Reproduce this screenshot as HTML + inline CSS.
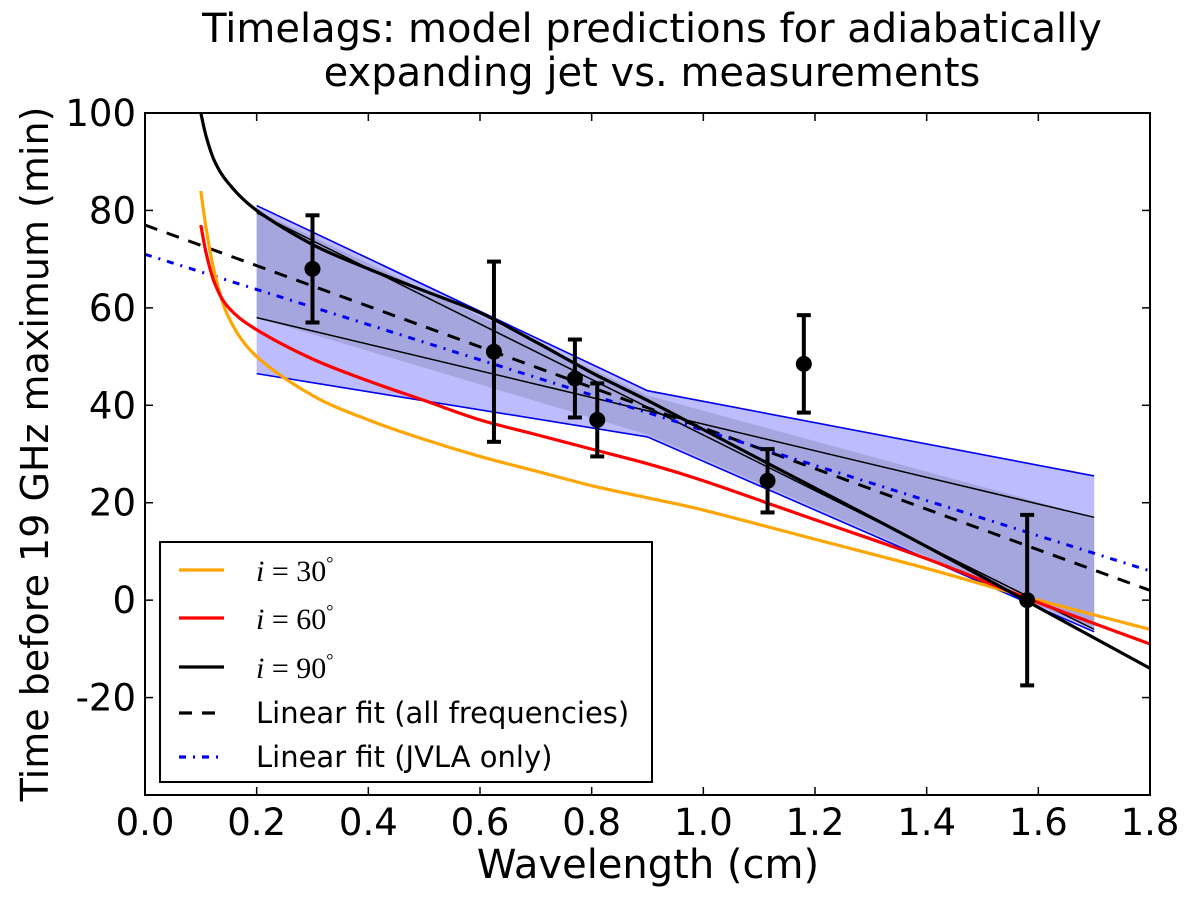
<!DOCTYPE html>
<html><head><meta charset="utf-8"><style>
body{margin:0;background:#fff;}
svg text{font-family:"DejaVu Sans","Liberation Sans",sans-serif;fill:#000;}
</style></head><body>
<svg id="chart" width="1200" height="904" viewBox="0 0 1200 904" xmlns="http://www.w3.org/2000/svg">
<text x="652" y="42" font-size="40" text-anchor="middle">Timelags: model predictions for adiabatically</text>
<text x="652" y="86" font-size="40" text-anchor="middle">expanding jet vs. measurements</text>
<text transform="translate(48,454) rotate(-90)" font-size="38" text-anchor="middle">Time before 19 GHz maximum (min)</text>
<text x="648" y="878" font-size="40" text-anchor="middle">Wavelength (cm)</text>
<g id="plot"></g>
</svg>
<script>
const xTicks=[0.0,0.2,0.4,0.6,0.8,1.0,1.2,1.4,1.6,1.8];
const xTickLabels=["0.0","0.2","0.4","0.6","0.8","1.0","1.2","1.4","1.6","1.8"];
const yTicks=[100,80,60,40,20,0,-20];
const yTickLabels=["100","80","60","40","20","0","-20"];
const curveX=[0.1,0.11,0.125,0.15,0.2,0.3,0.4,0.5,0.6,0.7,0.8,0.9,1.0,1.2,1.4,1.6,1.8];
const i30Y=[84,76,67,58,50,42,37,33,29.5,26.5,23.5,21,18.5,12.5,6.5,0,-6];
const i60Y=[77,71,65,60,55.5,49.5,45,41,37,34,31,28,24.5,16.5,8.5,-0.5,-9];
const i90Y=[100,95,90,85.5,80,73,68,63.5,59,53,46.7,41,35,23,11,-1.5,-14];
const fitAll=[77,2];
const fitJVLA=[71,6];
const bandX=[0.2,0.9,1.7];
const bandTop=[81,43,25.5];
const bandBottom=[46.5,33.5,-6.5];
const darkTop=[80,42,17];
const darkBottom=[58,34,-6];
const thinA=[[0.2,79.5],[1.7,-6]];
const thinB=[[0.2,58],[1.7,17]];
const ptX=[0.30,0.625,0.77,0.81,1.115,1.18,1.58];
const ptY=[68,51,45.5,37,24.5,48.5,0];
const ptErr=[11,18.5,8,7.5,6.5,10,17.5];

const L=145,R=1150,T=113,B=795,xmin=0,xmax=1.8,ymin=-40,ymax=100;
const sx=v=>L+(v-xmin)/(xmax-xmin)*(R-L);
const sy=v=>B-(v-ymin)/(ymax-ymin)*(B-T);
const NS="http://www.w3.org/2000/svg";
const g=document.getElementById('plot');
function mk(tag,attrs,parent){const e=document.createElementNS(NS,tag);for(const k in attrs)e.setAttribute(k,attrs[k]);(parent||g).appendChild(e);return e;}
const clip=mk('clipPath',{id:'cp'});mk('rect',{x:L,y:T,width:R-L,height:B-T},clip);
const inner=mk('g',{'clip-path':'url(#cp)'});
function poly(xs,top,bot){let p=xs.map((x,i)=>sx(x)+','+sy(top[i]));for(let i=xs.length-1;i>=0;i--)p.push(sx(xs[i])+','+sy(bot[i]));return p.join(' ');}
function smooth(xs,ys){const P=xs.map((x,i)=>[sx(x),sy(ys[i])]);let d='M'+P[0][0]+','+P[0][1];
 for(let i=0;i<P.length-1;i++){const p0=P[Math.max(0,i-1)],p1=P[i],p2=P[i+1],p3=P[Math.min(P.length-1,i+2)];
 const c1=[p1[0]+(p2[0]-p0[0])/6,p1[1]+(p2[1]-p0[1])/6],c2=[p2[0]-(p3[0]-p1[0])/6,p2[1]-(p3[1]-p1[1])/6];
 d+=' C'+c1[0]+','+c1[1]+' '+c2[0]+','+c2[1]+' '+p2[0]+','+p2[1];}return d;}
let e;
e=mk('polygon',{points:poly(bandX,bandTop,bandBottom),fill:'#bcbcff',stroke:'none'},inner);


e=mk('polygon',{points:poly(bandX,darkTop,darkBottom),fill:'#a6a6df',stroke:'none'},inner);


function pl(xs,ys,attrs,name){const e=mk('polyline',Object.assign({points:xs.map((x,i)=>sx(x)+','+sy(ys[i])).join(' '),fill:'none'},attrs),inner);

return e;}
function sp(xs,ys,attrs,name){const e=mk('path',Object.assign({d:smooth(xs,ys),fill:'none'},attrs),inner);

return e;}
pl(bandX,bandTop,{stroke:'#0000ee','stroke-width':1.6},'band-upper-edge');
pl(bandX,bandBottom,{stroke:'#0000ee','stroke-width':1.6},'band-lower-edge');
pl([thinA[0][0],thinA[1][0]],[thinA[0][1],thinA[1][1]],{stroke:'#000','stroke-width':1.5},'model-thin-line-a');
pl([thinB[0][0],thinB[1][0]],[thinB[0][1],thinB[1][1]],{stroke:'#000','stroke-width':1.5},'model-thin-line-b');
pl([xmin,xmax],fitAll,{stroke:'#000','stroke-width':3,'stroke-dasharray':'13,10'},'linear-fit-all');
pl([xmin,xmax],fitJVLA,{stroke:'#0000ee','stroke-width':3,'stroke-dasharray':'7,7,2,7'},'linear-fit-jvla');
sp(curveX,i30Y,{stroke:'#ffa500','stroke-width':3.2},'curve-i30');
sp(curveX,i60Y,{stroke:'#ff0000','stroke-width':3.2},'curve-i60');
sp(curveX,i90Y,{stroke:'#000','stroke-width':3.2},'curve-i90');
ptX.forEach((x,i)=>{
 const gg=mk('g',{},inner);
 
 
 const cx=sx(x),y1=sy(ptY[i]+ptErr[i]),y2=sy(ptY[i]-ptErr[i]);
 mk('line',{x1:cx,x2:cx,y1:y1,y2:y2,stroke:'#000','stroke-width':4},gg);
 mk('line',{x1:cx-7,x2:cx+7,y1:y1,y2:y1,stroke:'#000','stroke-width':4},gg);
 mk('line',{x1:cx-7,x2:cx+7,y1:y2,y2:y2,stroke:'#000','stroke-width':4},gg);
 mk('circle',{cx:cx,cy:sy(ptY[i]),r:8,fill:'#000'},gg);
});
e=mk('rect',{x:L,y:T,width:R-L,height:B-T,fill:'none',stroke:'#000','stroke-width':2});


xTicks.forEach((v,i)=>{
 const x=sx(v);
 mk('line',{x1:x,x2:x,y1:B,y2:B-8,stroke:'#000','stroke-width':1.5});
 mk('line',{x1:x,x2:x,y1:T,y2:T+8,stroke:'#000','stroke-width':1.5});
 const t=mk('text',{x:x,y:B+40,'font-size':37,'text-anchor':'middle'});t.textContent=xTickLabels[i];
 
 
});
yTicks.forEach((v,i)=>{
 const y=sy(v);
 mk('line',{x1:L,x2:L+8,y1:y,y2:y,stroke:'#000','stroke-width':1.5});
 mk('line',{x1:R,x2:R-8,y1:y,y2:y,stroke:'#000','stroke-width':1.5});
 const t=mk('text',{x:L-9,y:y+13,'font-size':37,'text-anchor':'end'});t.textContent=yTickLabels[i];
 
 
});
// legend
const lg=mk('g',{});


mk('rect',{x:160,y:542,width:492,height:240,fill:'#fff',stroke:'#000','stroke-width':2},lg);
const entries=[
 {y:570,stroke:'#ffa500',dash:'',label:'30',math:true,name:'legend-entry-i30'},
 {y:618,stroke:'#ff0000',dash:'',label:'60',math:true,name:'legend-entry-i60'},
 {y:667,stroke:'#000',dash:'',label:'90',math:true,name:'legend-entry-i90'},
 {y:713,stroke:'#000',dash:'13,10',label:'Linear fit (all frequencies)',math:false,name:'legend-entry-fit-all'},
 {y:757,stroke:'#0000ee',dash:'7,7,2,7',label:'Linear fit (JVLA only)',math:false,name:'legend-entry-fit-jvla'}];
entries.forEach(en=>{
 const eg=mk('g',{},lg);
 
 
 const a={x1:179,x2:224,y1:en.y,y2:en.y,stroke:en.stroke,'stroke-width':3.2};if(en.dash)a['stroke-dasharray']=en.dash;
 mk('line',a,eg);
 if(en.math){
  const t=mk('text',{x:256,y:en.y+11,'font-size':30,style:'font-family:"Liberation Serif","DejaVu Serif",serif','xml:space':'preserve'},eg);
  t.innerHTML='<tspan font-style="italic">i</tspan> = '+en.label+'<tspan dy="-12" font-size="18">°</tspan>';
 } else {
  const t=mk('text',{x:256,y:en.y+10,'font-size':29},eg);t.textContent=en.label;
 }
});
</script>
</body></html>
